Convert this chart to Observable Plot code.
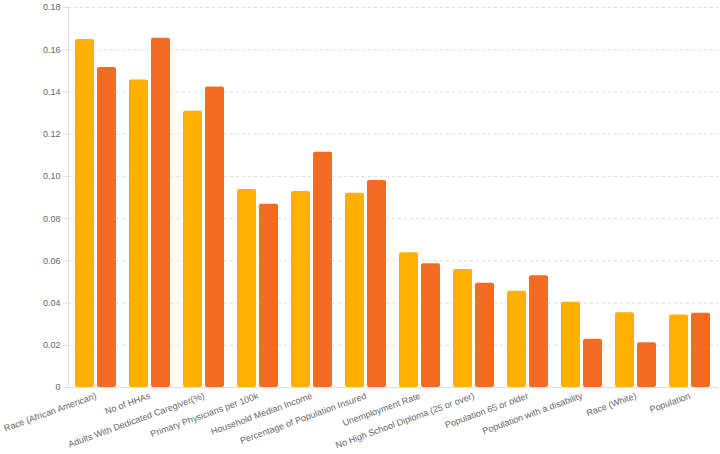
<!DOCTYPE html>
<html><head><meta charset="utf-8">
<script src="https://cdn.jsdelivr.net/npm/d3@7"></script>
<script src="https://cdn.jsdelivr.net/npm/@observablehq/plot@0.6"></script>
<style>html,body{margin:0;padding:0;background:#fff}</style>
</head><body><div id="chart"></div>
<script>
const categories = [
  "Race (African American)",
  "No of HHAs",
  "Adults With Dedicated Caregiver(%)",
  "Primary Physicians per 100k",
  "Household Median Income",
  "Percentage of Population Insured",
  "Unemployment Rate",
  "No High School Diploma (25 or over)",
  "Population 65 or older",
  "Population with a disability",
  "Race (White)",
  "Population"
];
const seriesA = [0.1649, 0.1457, 0.1308, 0.0938, 0.0929, 0.0920, 0.0638, 0.0559, 0.0456, 0.0404, 0.0354, 0.0343];
const seriesB = [0.1516, 0.1654, 0.1423, 0.0868, 0.1114, 0.0981, 0.0586, 0.0494, 0.0529, 0.0229, 0.0212, 0.0352];
const yTicks = [0, 0.02, 0.04, 0.06, 0.08, 0.10, 0.12, 0.14, 0.16, 0.18];

const data = categories.map((c, i) => ({category: c, a: seriesA[i], b: seriesB[i]}));

const chart = Plot.plot({
  width: 720, height: 454,
  marginLeft: 68, marginRight: 2, marginTop: 7, marginBottom: 67,
  style: {fontFamily: "'Liberation Sans', Arial, sans-serif", fontSize: "9px", color: "#666", background: "#fff"},
  x: {type: "band", domain: categories, paddingInner: 0.24, paddingOuter: 0.12, label: null},
  y: {domain: [0, 0.18], label: null},
  marks: [
    Plot.gridY(yTicks.filter(d => d > 0), {stroke: "#dcdcdc", strokeOpacity: 1, strokeDasharray: "3,3"}),
    Plot.frame({anchor: "left", stroke: "#e0e0e0"}),
    Plot.barY(data, {x: "category", y: "a", fill: "#FFB000", insetRight: 22, rx: 2}),
    Plot.barY(data, {x: "category", y: "b", fill: "#F36C22", insetLeft: 22, rx: 2}),
    Plot.ruleY([0], {stroke: "#e0e0e0"}),
    Plot.axisY(yTicks, {tickSize: 5, tickPadding: 3, stroke: "#e0e0e0", fill: "#666", label: null,
      tickFormat: d => d === 0 ? "0" : d.toFixed(2)}),
    Plot.axisX({tickSize: 0, tickRotate: -20, tickPadding: 8, fill: "#666", label: null})
  ]
});
document.getElementById("chart").appendChild(chart);
</script>
</body></html>
